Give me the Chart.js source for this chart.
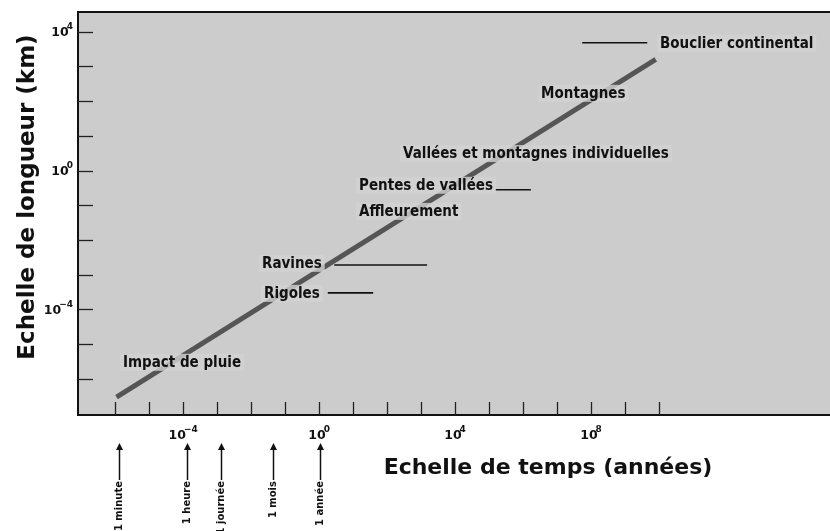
<!DOCTYPE html>
<html>
<head>
<meta charset="utf-8">
<script src="https://cdn.jsdelivr.net/npm/chart.js@4.4.0/dist/chart.umd.min.js"></script>
<style>
  body { margin: 0; background: #fff; }
  canvas { display: block; }
</style>
</head>
<body>
<canvas id="chart" width="830" height="531"></canvas>
<script>
// echelle de temps (annees) / echelle de longueur (km), axes log-log
const lineTime = [1.1e-6, 8e9];
const lineLength = [3e-7, 1.6e3];

// petits traits horizontaux a cote des etiquettes
const barNames = ['Bouclier continental', 'Pentes de vallées', 'Ravines', 'Rigoles'];
const barTimeStart = [5.5e7, 1.5e5, 2.8, 1.8];
const barTimeEnd = [4.5e9, 1.7e6, 1.5e3, 39];
const barLength = [4.8e3, 0.28, 1.9e-3, 3e-4];

// etiquettes (point d'ancrage a gauche du texte)
const labelTexts = ['Bouclier continental', 'Montagnes', 'Vallées et montagnes individuelles',
  'Pentes de vallées', 'Affleurement', 'Ravines', 'Rigoles', 'Impact de pluie'];
const labelTime = [1.07e10, 3.4e6, 295, 15, 15, 0.021, 0.024, 1.7e-6];
const labelLength = [4.8e3, 174, 3.2, 0.39, 0.069, 2.2e-3, 3e-4, 3.1e-6];

// reperes de temps sous l'axe
const markerTexts = ['1 minute', '1 heure', '1 journée', '1 mois', '1 année'];
const markerTime = [1.3e-6, 1.3e-4, 1.3e-3, 0.045, 1.07];

// graduations (exposants)
const xTickExp = [-6, -5, -4, -3, -2, -1, 0, 1, 2, 3, 4, 5, 6, 7, 8, 9, 10];
const xLabelExp = [-4, 0, 4, 8];
const yTickExp = [-6, -5, -4, -3, -2, -1, 0, 1, 2, 3, 4];
const yLabelExp = [-4, 0, 4];

const FONT = "'DejaVu Sans', Verdana, sans-serif";
const LABEL_FONT = "'DejaVu Sans Condensed', 'DejaVu Sans', sans-serif";

let datasets = [{
  data: lineTime.map((t, i) => ({x: t, y: lineLength[i]})),
  borderColor: '#555',
  borderWidth: 5,
  borderCapStyle: 'butt',
  pointRadius: 0
}];
for (let i = 0; i < barNames.length; i++) {
  datasets.push({
    data: [{x: barTimeStart[i], y: barLength[i]}, {x: barTimeEnd[i], y: barLength[i]}],
    borderColor: '#111',
    borderWidth: 1.6,
    pointRadius: 0
  });
}

function drawPow(ctx, x, y, exp, align) {
  // "10" avec exposant
  ctx.font = 'bold 12.5px ' + FONT;
  const base = '10';
  const wBase = ctx.measureText(base).width;
  ctx.font = 'bold 9px ' + FONT;
  const sup = String(exp).replace('-', '\u2212');
  const wSup = ctx.measureText(sup).width;
  const total = wBase + wSup - 2;
  let left = align === 'right' ? x - total : x - total / 2;
  ctx.fillStyle = '#111';
  ctx.textAlign = 'left';
  ctx.textBaseline = 'middle';
  ctx.font = 'bold 12.5px ' + FONT;
  ctx.fillText(base, left, y);
  ctx.font = 'bold 9px ' + FONT;
  ctx.fillText(sup, left + wBase - 2, y - 6);
}

const decor = {
  id: 'decor',
  beforeDraw(chart) {
    const ctx = chart.ctx;
    const a = chart.chartArea;
    ctx.save();
    ctx.fillStyle = '#fff';
    ctx.fillRect(0, 0, chart.width, chart.height);
    ctx.fillStyle = '#cccccc';
    ctx.fillRect(a.left, a.top, a.right - a.left, a.bottom - a.top);
    ctx.restore();
  },
  afterDatasetsDraw(chart) {
    const ctx = chart.ctx;
    const a = chart.chartArea;
    const xs = chart.scales.x;
    const ys = chart.scales.y;
    ctx.save();

    // etiquettes
    ctx.font = 'bold 15px ' + LABEL_FONT;
    ctx.textBaseline = 'middle';
    ctx.textAlign = 'left';
    labelTexts.forEach((txt, i) => {
      const px = xs.getPixelForValue(labelTime[i]);
      const py = ys.getPixelForValue(labelLength[i]);
      const w = ctx.measureText(txt).width;
      ctx.fillStyle = 'rgba(210,210,210,0.8)';
      ctx.fillRect(px - 3, py - 8, w + 6, 17);
      ctx.fillStyle = '#111';
      ctx.fillText(txt, px, py + 1);
    });

    // cadre
    ctx.strokeStyle = '#111';
    ctx.lineWidth = 2;
    ctx.beginPath();
    ctx.moveTo(a.right, a.top);
    ctx.lineTo(a.left, a.top);
    ctx.lineTo(a.left, a.bottom);
    ctx.lineTo(a.right, a.bottom);
    ctx.stroke();

    // graduations vers l'interieur
    ctx.lineWidth = 1.3;
    ctx.strokeStyle = '#222';
    xTickExp.forEach(e => {
      const px = Math.round(xs.getPixelForValue(Math.pow(10, e))) + 0.5;
      ctx.beginPath();
      ctx.moveTo(px, a.bottom);
      ctx.lineTo(px, a.bottom - 13);
      ctx.stroke();
    });
    yTickExp.forEach(e => {
      const py = Math.round(ys.getPixelForValue(Math.pow(10, e))) + 0.5;
      ctx.beginPath();
      ctx.moveTo(a.left, py);
      ctx.lineTo(a.left + 15, py);
      ctx.stroke();
    });

    xLabelExp.forEach(e => {
      drawPow(ctx, xs.getPixelForValue(Math.pow(10, e)), a.bottom + 21, e, 'center');
    });
    yLabelExp.forEach(e => {
      drawPow(ctx, a.left - 5, ys.getPixelForValue(Math.pow(10, e)) + 1, e, 'right');
    });

    // titres des axes
    ctx.fillStyle = '#111';
    ctx.font = 'bold 22px ' + FONT;
    ctx.textAlign = 'center';
    ctx.textBaseline = 'middle';
    ctx.fillText('Echelle de temps (années)', 548, 468);
    ctx.save();
    ctx.translate(28, 197);
    ctx.rotate(-Math.PI / 2);
    ctx.font = 'bold 23px ' + FONT;
    ctx.fillText('Echelle de longueur (km)', 0, 0);
    ctx.restore();

    // fleches de temps
    markerTexts.forEach((txt, i) => {
      const px = Math.round(xs.getPixelForValue(markerTime[i])) + 0.5;
      const tip = a.bottom + 28;
      ctx.strokeStyle = '#111';
      ctx.fillStyle = '#111';
      ctx.lineWidth = 1.5;
      ctx.beginPath();
      ctx.moveTo(px, tip + 4);
      ctx.lineTo(px, a.bottom + 65);
      ctx.stroke();
      ctx.beginPath();
      ctx.moveTo(px, tip);
      ctx.lineTo(px - 3.5, tip + 7);
      ctx.lineTo(px + 3.5, tip + 7);
      ctx.closePath();
      ctx.fill();
      ctx.save();
      ctx.translate(px, a.bottom + 66);
      ctx.rotate(-Math.PI / 2);
      ctx.font = 'bold 10px ' + FONT;
      ctx.textAlign = 'right';
      ctx.textBaseline = 'middle';
      ctx.fillText(txt, 0, 0);
      ctx.restore();
    });

    ctx.restore();
  }
};

new Chart(document.getElementById('chart'), {
  type: 'line',
  data: { datasets: datasets },
  options: {
    responsive: false,
    animation: false,
    devicePixelRatio: 1,
    layout: { padding: { left: 78, top: 12, right: 0, bottom: 116 } },
    plugins: { legend: { display: false }, tooltip: { enabled: false } },
    scales: {
      x: { type: 'logarithmic', display: false, bounds: 'data', min: 8.1e-8, max: 1.07e15 },
      y: { type: 'logarithmic', display: false, bounds: 'data', min: 9.1e-8, max: 3.7e4 }
    }
  },
  plugins: [decor]
});
</script>
</body>
</html>
